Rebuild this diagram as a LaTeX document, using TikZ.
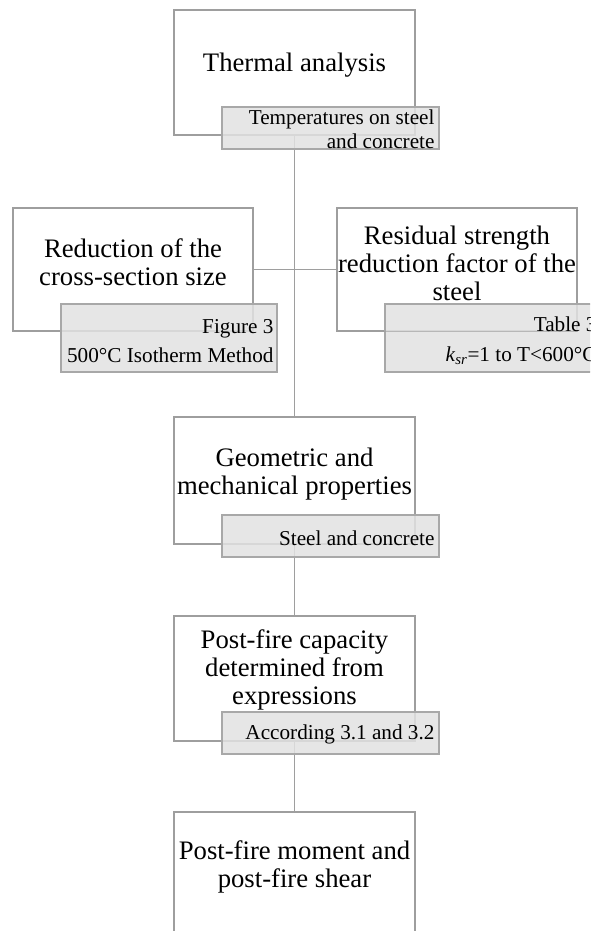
\documentclass[tikz,border=0pt]{standalone}
\usepackage{fontspec}
\setmainfont{Liberation Serif}
\definecolor{boxline}{HTML}{9E9E9E}
\definecolor{lblfill}{HTML}{E2E2E2}
\definecolor{lblline}{HTML}{A8A8A8}
\tikzset{
  box/.style={draw=boxline, line width=1.35pt, fill=white, inner sep=0pt},
  lbl/.style={draw=lblline, line width=1.35pt, fill=lblfill, fill opacity=0.85, inner sep=0pt, minimum width=216pt},
  boxtext/.style={align=center, inner sep=0pt, font=\fontsize{26.7pt}{28pt}\selectfont},
  lbltext/.style={align=right, inner sep=0pt, anchor=east, font=\fontsize{21.2pt}{23.5pt}\selectfont},
  conn/.style={draw=boxline, line width=1.4pt},
  faint/.style={draw=boxline, draw opacity=0.55, line width=1.2pt},
}
\begin{document}
\begin{tikzpicture}[x=1pt,y=-1pt]
\useasboundingbox (0,0) rectangle (590,931);
\clip (0,0) rectangle (590,931);
% boxes
\node[box, minimum width=241pt, minimum height=125pt] (b1) at (294.5,72.5) {};
\node[box, minimum width=240pt, minimum height=123pt] (b2) at (133,269.5) {};
\node[box, minimum width=240pt, minimum height=123pt] (b3) at (457,269.5) {};
\node[box, minimum width=241pt, minimum height=127pt] (b4) at (294.5,480.5) {};
\node[box, minimum width=241pt, minimum height=125pt] (b5) at (294.5,678.5) {};
\node[box, minimum width=241pt, minimum height=125pt] (b6) at (294.5,874.5) {};
% connectors
\draw[conn] (b1.south) -- (b4.north);
\draw[conn] (b2.east) -- (b3.west);
\draw[conn] (b4.south) -- (b5.north);
\draw[conn] (b5.south) -- (b6.north);
% box texts
\node[boxtext] (t1) at ([yshift=7pt]b1.center) {Thermal analysis};
\node[boxtext] (t2) at ([yshift=7pt]b2.center) {Reduction of the\\cross-section size};
\node[boxtext] (t3) at ([yshift=6pt]b3.center) {Residual strength\\reduction factor of the\\steel};
\node[boxtext] (t4) at ([yshift=6pt]b4.center) {Geometric and\\mechanical properties};
\node[boxtext] (t5) at ([yshift=9pt]b5.center) {Post-fire capacity\\determined from\\expressions};
\node[boxtext] (t6) at ([yshift=7.5pt]b6.center) {Post-fire moment and\\post-fire shear};
% labels
\node[lbl, minimum width=217pt, minimum height=42pt] (l1) at (330.5,128) {};
\node[lbl, minimum height=68pt] (l2) at (169,338) {};
\node[lbl, minimum height=68pt] (l3) at (493,338) {};
\node[lbl, minimum width=217pt, minimum height=42pt] (l4) at (330.5,536) {};
\node[lbl, minimum width=217pt, minimum height=42pt] (l5) at (330.5,733) {};
% box border seen through the label
\draw[faint] (l3.west |- b3.south) -- (b3.south east);
% label texts
\node[lbltext] (lt1) at ([xshift=-5pt,yshift=-1pt]l1.east) {Temperatures on steel\\and concrete};
\node[lbltext] (lt2) at ([xshift=-4pt,yshift=-3pt]l2.east) {Figure 3\\[6pt]500°C Isotherm Method};
\node[lbltext] (lt3) at ([xshift=-5pt,yshift=-3pt]l3.east) {Table 3\\[6pt]\textit{k}\textsubscript{\textit{sr}}=1 to T<600°C};
\node[lbltext] (lt4) at ([xshift=-5pt,yshift=-2pt]l4.east) {Steel and concrete};
\node[lbltext] (lt5) at ([xshift=-5pt,yshift=-1pt]l5.east) {According 3.1 and 3.2};
\end{tikzpicture}
\end{document}
